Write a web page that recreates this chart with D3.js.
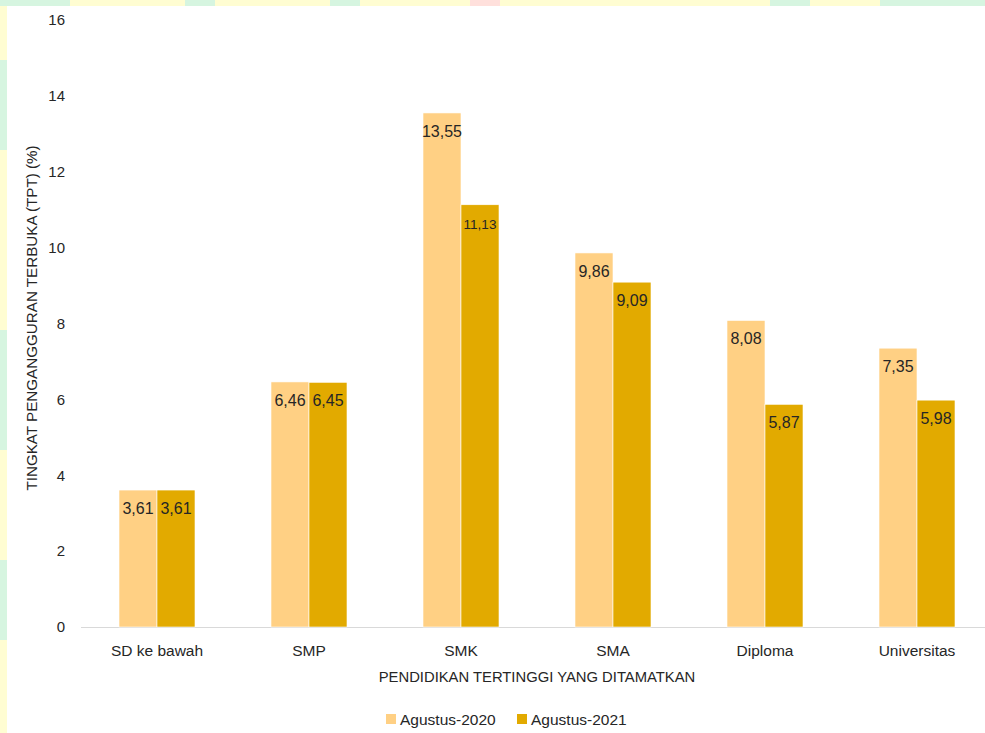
<!DOCTYPE html>
<html><head><meta charset="utf-8">
<script src="https://cdn.jsdelivr.net/npm/d3@7"></script>
<style>body{margin:0;background:#fff}svg{display:block}</style>
</head><body>
<script>
const categories = ["SD ke bawah","SMP","SMK","SMA","Diploma","Universitas"];
const seriesNames = ["Agustus-2020","Agustus-2021"];
const values2020 = [3.61,6.46,13.55,9.86,8.08,7.35];
const values2021 = [3.61,6.45,11.13,9.09,5.87,5.98];
const yTicks = [0,2,4,6,8,10,12,14,16];
const colors = ["#FFD084","#E2AA00"];

const W = 985, H = 733;
const svg = d3.select("body").append("svg").attr("width",W).attr("height",H);
const font = "'Liberation Sans', Arial, sans-serif";

// faint watermark border
svg.append("rect").attr("width",W).attr("height",H).attr("fill","#fffdd2");
const bg = [[0,0,70,6,"#d6f5e0"],[185,0,30,6,"#d6f5e0"],[330,0,30,6,"#d6f5e0"],[470,0,30,6,"#ffe0dc"],[770,0,40,6,"#d6f5e0"],[880,0,105,6,"#d6f5e0"],[0,60,7,90,"#d6f5e0"],[0,330,7,120,"#d6f5e0"],[0,560,7,80,"#d6f5e0"]];
bg.forEach(b=>svg.append("rect").attr("x",b[0]).attr("y",b[1]).attr("width",b[2]).attr("height",b[3]).attr("fill",b[4]));
svg.append("rect").attr("x",7).attr("y",6).attr("width",W-7).attr("height",H-6).attr("fill","#fff");

const x = d3.scaleBand().domain(categories).range([81,993]);
const y = d3.scaleLinear().domain([0,16]).range([627,20]);
const bw = x.bandwidth()*0.25;

// y tick labels
svg.append("g").selectAll("text").data(yTicks).join("text")
  .attr("x",65).attr("y",d=>y(d)).attr("dy","0.35em").attr("text-anchor","end")
  .attr("font-family",font).attr("font-size",15).attr("fill","#262626").text(d=>d);

// baseline
svg.append("line").attr("x1",81).attr("x2",W).attr("y1",y(0)+0.5).attr("y2",y(0)+0.5)
  .attr("stroke","#d9d9d9").attr("stroke-width",1.2);

const series = [values2020, values2021];
series.forEach((vals,si)=>{
  const g = svg.append("g");
  g.selectAll("rect").data(vals).join("rect")
    .attr("x",(d,i)=>x(categories[i])+x.bandwidth()/2 - bw + si*bw)
    .attr("y",d=>y(d)).attr("width",bw).attr("height",d=>y(0)-y(d))
    .attr("fill",colors[si]).attr("stroke","#fff").attr("stroke-width",0.6);
  g.selectAll("text").data(vals).join("text")
    .attr("x",(d,i)=>x(categories[i])+x.bandwidth()/2 - bw/2 + si*bw)
    .attr("y",d=>y(d)+24)
    .attr("text-anchor","middle").attr("font-family",font)
    .attr("font-size",d=>d>=10 && si===1 ? 13.5 : 16)
    .attr("fill","#262626").text(d=>d.toFixed(2).replace(".",","));
});

// category labels
svg.append("g").selectAll("text").data(categories).join("text")
  .attr("x",d=>x(d)+x.bandwidth()/2).attr("y",656).attr("text-anchor","middle")
  .attr("font-family",font).attr("font-size",15.5).attr("fill","#262626").text(d=>d);

// axis titles
svg.append("text").attr("x",537).attr("y",682).attr("text-anchor","middle")
  .attr("font-family",font).attr("font-size",14.8).attr("fill","#262626")
  .text("PENDIDIKAN TERTINGGI YANG DITAMATKAN");
svg.append("text").attr("transform","translate(37,318) rotate(-90)").attr("text-anchor","middle")
  .attr("font-family",font).attr("font-size",15.2).attr("fill","#262626")
  .text("TINGKAT PENGANGGURAN TERBUKA (TPT) (%)");

// legend
const lx = [386, 517];
seriesNames.forEach((n,i)=>{
  svg.append("rect").attr("x",lx[i]).attr("y",714).attr("width",10).attr("height",10).attr("fill",colors[i]);
  svg.append("text").attr("x",lx[i]+14).attr("y",725).attr("font-family",font).attr("font-size",15.5)
    .attr("fill","#262626").text(n);
});
</script>
</body></html>
